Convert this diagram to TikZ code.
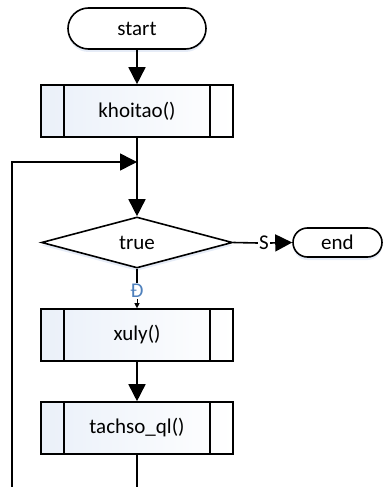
\documentclass[tikz,border=0pt]{standalone}
\usepackage{fontspec}
\setmainfont{Carlito}
\usetikzlibrary{arrows.meta,shapes.geometric,shapes.misc,shadows}
\definecolor{lblue}{HTML}{EAF0F9}
\definecolor{dlabel}{HTML}{4F81BD}
\definecolor{shad}{HTML}{D5E0F2}
\begin{document}
\begin{tikzpicture}[x=1pt,y=-1pt,
  every node/.style={font=\fontsize{21}{25}\selectfont},
  ln/.style={line width=1.6pt},
  arr/.style={line width=1.6pt,-{Triangle[length=17pt,width=17pt]}},
  term/.style={draw,line width=1.6pt,rounded rectangle,inner sep=0pt,fill=white,
    drop shadow={shadow xshift=0pt,shadow yshift=-3pt,fill=shad,opacity=0.6}},
  proc/.style={draw,line width=1.6pt,minimum width=192pt,minimum height=52pt,inner sep=0pt,
    left color=lblue,right color=white,
    path picture={
      \draw[line width=1.6pt] ([xshift=23pt]path picture bounding box.north west) -- ([xshift=23pt]path picture bounding box.south west);
      \draw[line width=1.6pt] ([xshift=-23pt]path picture bounding box.north east) -- ([xshift=-23pt]path picture bounding box.south east);}},
  dec/.style={draw,line width=1.6pt,diamond,minimum width=191pt,minimum height=51pt,inner sep=0pt,fill=white,
    drop shadow={shadow xshift=0pt,shadow yshift=-3pt,fill=shad,opacity=0.6}},
  lab/.style={inner sep=1pt,fill=white}]
\useasboundingbox (0,0) rectangle (383,487);
\node[term,minimum width=138pt,minimum height=41pt] (s) at (137,28.5) {start};
\node[proc] (k) at (137,111) {khoitao()};
\coordinate (j) at (137,162);
\node[dec] (d) at (137,242.5) {true};
\node[term,minimum width=89pt,minimum height=29pt] (e) at (337.5,242.5) {end};
\node[lab] (sl) at (264,243) {S};
\node[lab,text=dlabel] (dl) at (137,291) {Đ};
\node[proc] (x) at (137,335) {xuly()};
\node[proc] (t) at (137,428) {tachso\_ql()};
\coordinate (tb) at (137,488);
\coordinate (lb) at (12,488);
\draw[arr] (s) -- (k);
\draw[arr] (k) -- (d);
\draw[ln] (d.east) -- (sl.west);
\draw[arr] (sl.east) -- (e.west);
\draw[ln] (d.south) -- (dl.north);
\draw[line width=0.6pt,-{Triangle[length=5pt,width=5pt]}] (dl.south) -- (x.north);
\draw[arr] (x) -- (t);
\draw[ln] (t) -- (tb);
\draw[arr] (lb) |- (j);
\end{tikzpicture}
\end{document}
